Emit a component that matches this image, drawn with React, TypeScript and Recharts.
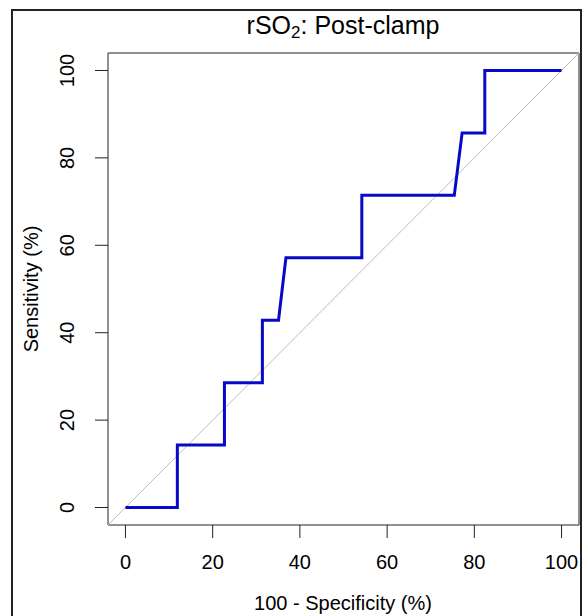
import { Line, LineChart, ReferenceArea, ReferenceLine, XAxis, YAxis } from "recharts";

// ROC curve, rSO2 post-clamp
const fpr = [0, 11.9, 11.9, 22.7, 22.7, 31.4, 31.4, 35.1, 36.8, 54.2, 54.2, 75.4, 77.2, 82.4, 82.4, 100];
const sensitivity = [0, 0, 14.29, 14.29, 28.57, 28.57, 42.86, 42.86, 57.14, 57.14, 71.43, 71.43, 85.71, 85.71, 100, 100];
const axisTicks = [0, 20, 40, 60, 80, 100];
const axisDomain = [-4, 104];

const rocData = fpr.map((x, i) => ({ x, y: sensitivity[i] }));

const FONT = '"Liberation Sans", Arial, sans-serif';

function YTick({ x, y, payload }: any) {
  return (
    <text
      transform={`translate(${x - 19},${y}) rotate(-90)`}
      textAnchor="middle"
      fontSize={20}
      fontFamily={FONT}
      fill="#000"
    >
      {payload.value}
    </text>
  );
}

export default function App() {
  return (
    <div
      style={{
        position: "absolute",
        left: 0,
        top: 0,
        width: 584,
        height: 616,
        overflow: "hidden",
        background: "#fff",
        fontFamily: FONT,
      }}
    >
      <div
        style={{
          position: "absolute",
          left: 11,
          top: 9,
          width: 571,
          height: 640,
          border: "2px solid #222",
          boxSizing: "border-box",
        }}
      />
      <LineChart
        width={584}
        height={616}
        data={rocData}
        margin={{ top: 53, right: 5, bottom: 1, left: 20 }}
        style={{ position: "absolute", left: 0, top: 0 }}
      >
        <XAxis
          type="number"
          dataKey="x"
          domain={axisDomain}
          ticks={axisTicks}
          interval={0}
          allowDataOverflow
          axisLine={false}
          tickSize={13}
          tickMargin={17}
          tickLine={{ stroke: "#222" }}
          tick={{ fill: "#000", fontSize: 20, fontFamily: FONT }}
          height={90}
        />
        <YAxis
          type="number"
          dataKey="y"
          domain={axisDomain}
          ticks={axisTicks}
          interval={0}
          allowDataOverflow
          axisLine={false}
          tickSize={13}
          tickLine={{ stroke: "#222" }}
          tick={<YTick />}
          width={88}
        />
        <ReferenceArea x1={-4} x2={104} y1={-4} y2={104} fill="none" stroke="#222" strokeWidth={1} />
        <ReferenceLine
          segment={[
            { x: -4, y: -4 },
            { x: 104, y: 104 },
          ]}
          stroke="#bdbdbd"
          strokeWidth={1}
        />
        <Line
          type="linear"
          dataKey="y"
          stroke="#0808c8"
          strokeWidth={3}
          dot={false}
          activeDot={false}
          isAnimationActive={false}
        />
      </LineChart>
      <div
        style={{
          position: "absolute",
          left: 93,
          top: 13,
          width: 500,
          textAlign: "center",
          fontSize: 25,
          lineHeight: "25px",
          color: "#000",
        }}
      >
        rSO<sub style={{ fontSize: 17, verticalAlign: "-4px", lineHeight: 0 }}>2</sub>: Post-clamp
      </div>
      <div
        style={{
          position: "absolute",
          left: 93,
          top: 591,
          width: 500,
          textAlign: "center",
          fontSize: 20,
          lineHeight: "24px",
          color: "#000",
        }}
      >
        100 - Specificity (%)
      </div>
      <div
        style={{
          position: "absolute",
          left: 31 - 150,
          top: 289 - 12,
          width: 300,
          height: 24,
          textAlign: "center",
          fontSize: 20,
          lineHeight: "24px",
          color: "#000",
          transform: "rotate(-90deg)",
        }}
      >
        Sensitivity (%)
      </div>
    </div>
  );
}
